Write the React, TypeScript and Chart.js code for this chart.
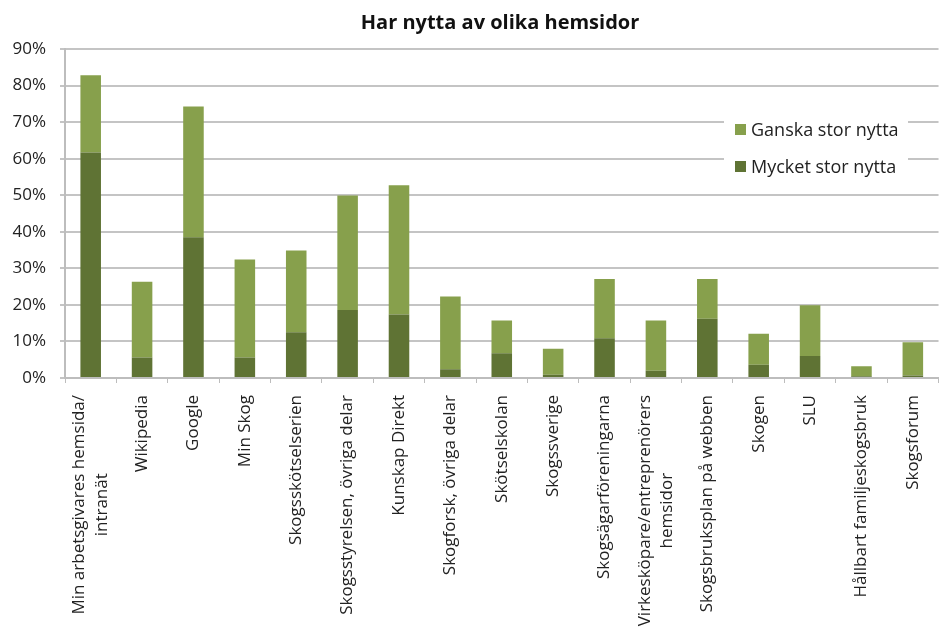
import React, { useEffect, useRef } from "react";
import { Chart, registerables } from "chart.js";

Chart.register(...registerables);

const chartTitle = "Har nytta av olika hemsidor";

const categories: (string | string[])[] = [
  ["Min arbetsgivares hemsida/", "intranät"],
  "Wikipedia",
  "Google",
  "Min Skog",
  "Skogsskötselserien",
  "Skogsstyrelsen, övriga delar",
  "Kunskap Direkt",
  "Skogforsk, övriga delar",
  "Skötselskolan",
  "Skogssverige",
  "Skogsägarföreningarna",
  ["Virkesköpare/entreprenörers", "hemsidor"],
  "Skogsbruksplan på webben",
  "Skogen",
  "SLU",
  "Hållbart familjeskogsbruk",
  "Skogsforum",
];

const mycketStor = [61.7, 5.6, 38.5, 5.6, 12.5, 18.6, 17.4, 2.4, 6.8, 0.9, 10.9, 2.0, 16.2, 3.6, 6.0, 0.5, 0.7];
const ganskaStor = [21.1, 20.7, 35.8, 26.8, 22.4, 31.3, 35.3, 19.9, 8.9, 7.1, 16.2, 13.7, 10.9, 8.5, 13.9, 2.7, 9.1];

const yTicks = [0, 10, 20, 30, 40, 50, 60, 70, 80, 90];

const FONT = "'Open Sans', Lato, sans-serif";
const XFONT_SIZE = 17;
const XLINE_HEIGHT = 1.3;

// centre multi-line rotated tick labels on their tick, like the original
const labelAdjustPlugin = {
  id: "labelAdjust",
  beforeDraw(chart: any) {
    const scale = chart.scales.x;
    const items = scale.getLabelItems();
    const ctx = chart.ctx;
    ctx.save();
    ctx.font = `${XFONT_SIZE}px ${FONT}`;
    for (const item of items) {
      if (item.__adjusted) continue;
      item.__adjusted = true;
      if (Array.isArray(item.label) && item.label.length > 1) {
        const lh = XFONT_SIZE * XLINE_HEIGHT;
        const maxW = Math.max(...item.label.map((l: string) => ctx.measureText(l).width));
        const t = item.options.translation;
        item.options.translation = [t[0] - (lh * (item.label.length - 1)) / 2, t[1] + maxW / 2];
        item.options.textAlign = "center";
      }
    }
    ctx.restore();
  },
};

const decorPlugin = {
  id: "decor",
  afterDraw(chart: any) {
    const ctx = chart.ctx;
    ctx.save();
    ctx.font = `bold 20px ${FONT}`;
    ctx.fillStyle = "#111111";
    ctx.textAlign = "center";
    ctx.textBaseline = "middle";
    ctx.fillText(chartTitle, 500, 23);
    ctx.fillStyle = "#ffffff";
    ctx.fillRect(724, 110, 184, 78);
    const items = [
      { label: chart.data.datasets[1].label, color: chart.data.datasets[1].backgroundColor, y: 130 },
      { label: chart.data.datasets[0].label, color: chart.data.datasets[0].backgroundColor, y: 167 },
    ];
    ctx.font = `18px ${FONT}`;
    ctx.textBaseline = "middle";
    ctx.textAlign = "left";
    for (const it of items) {
      ctx.fillStyle = it.color;
      ctx.fillRect(735, it.y - 6, 11, 11);
      ctx.fillStyle = "#222222";
      ctx.fillText(it.label, 751, it.y + 1);
    }
    ctx.restore();
  },
};

export default function App() {
  const ref = useRef<HTMLCanvasElement | null>(null);
  useEffect(() => {
    if (!ref.current) return;
    const chart = new Chart(ref.current, {
      type: "bar",
      data: {
        labels: categories,
        datasets: [
          {
            label: "Mycket stor nytta",
            data: mycketStor,
            backgroundColor: "#5f7334",
            barPercentage: 0.4,
            categoryPercentage: 1,
          },
          {
            label: "Ganska stor nytta",
            data: ganskaStor,
            backgroundColor: "#87a04c",
            barPercentage: 0.4,
            categoryPercentage: 1,
          },
        ],
      },
      options: {
        animation: false,
        responsive: false,
        layout: { padding: { right: 2, left: 0, top: 49 } },
        plugins: {
          legend: { display: false },
          tooltip: { enabled: false },
          title: { display: false },
        },
        scales: {
          x: {
            stacked: true,
            grid: {
              display: true,
              drawOnChartArea: false,
              drawTicks: true,
              tickLength: 5,
              offset: true,
              color: "#bdbdbd",
            },
            border: { color: "#bdbdbd", width: 2 },
            ticks: {
              minRotation: 90,
              maxRotation: 90,
              autoSkip: false,
              padding: 12,
              color: "#222222",
              font: { family: FONT, size: XFONT_SIZE, lineHeight: XLINE_HEIGHT },
            },
            afterFit(axis: any) {
              axis.height = 635 - 378;
            },
          },
          y: {
            stacked: true,
            min: 0,
            max: 90,
            afterBuildTicks(axis: any) {
              axis.ticks = yTicks.map((v) => ({ value: v }));
            },
            grid: {
              color: "#c4c4c4",
              lineWidth: 2,
              drawTicks: true,
              tickLength: 5,
            },
            border: { color: "#bdbdbd", width: 2 },
            ticks: {
              padding: 14,
              color: "#222222",
              font: { family: FONT, size: 17 },
              callback: (v: any) => `${v}%`,
            },
            afterFit(axis: any) {
              axis.width = 65;
            },
          },
        },
      },
      plugins: [labelAdjustPlugin, decorPlugin],
    } as any);
    return () => chart.destroy();
  }, []);
  return (
    <div style={{ position: "fixed", left: 0, top: 0, width: 947, height: 635, background: "#fff" }}>
      <canvas ref={ref} width={947} height={635} style={{ display: "block" }} />
    </div>
  );
}
